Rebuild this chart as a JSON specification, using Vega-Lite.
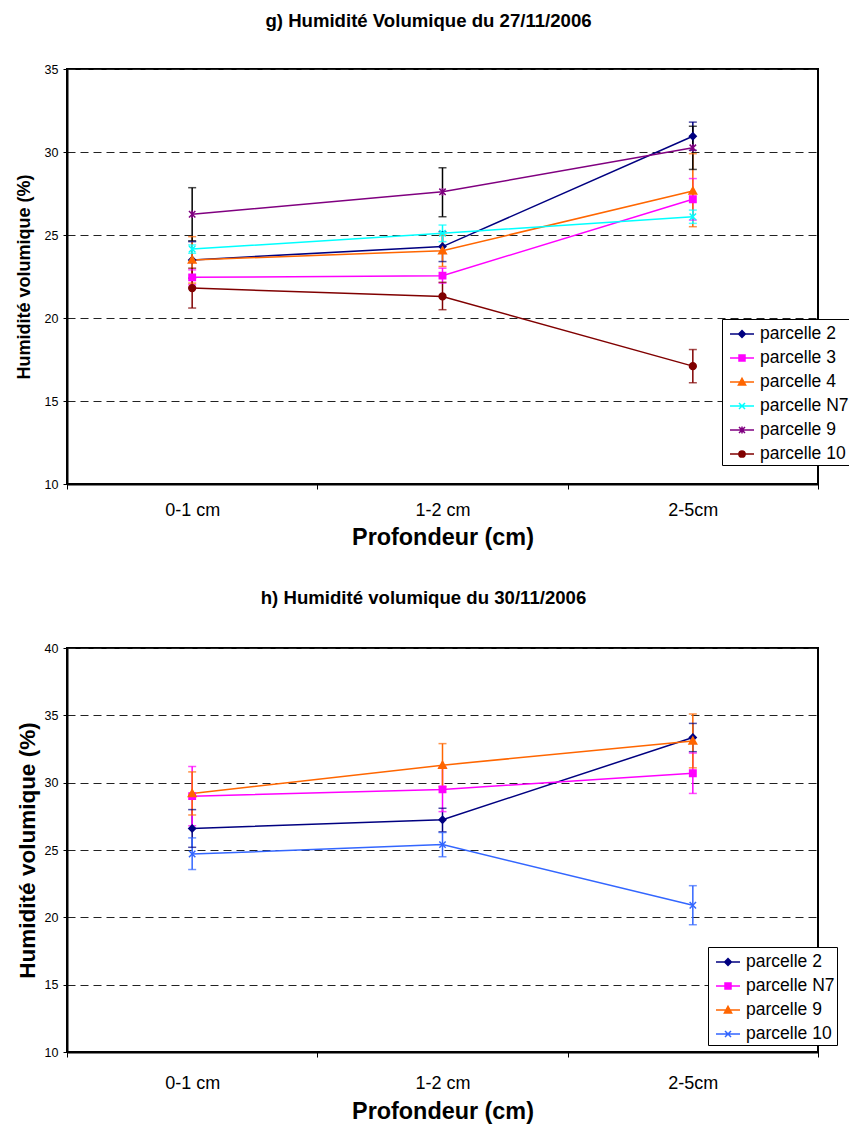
{
  "$schema": "https://vega.github.io/schema/vega-lite/v6.json",
  "background": "white",
  "padding": {"left": 14, "top": 11, "right": 0, "bottom": 0},
  "config": {
    "font": "Liberation Sans",
    "view": {"stroke": "black", "strokeWidth": 2},
    "axis": {"labelColor": "black", "titleColor": "black", "tickColor": "black", "domainColor": "black", "labelFont": "Liberation Sans", "titleFont": "Liberation Sans"}
  },
  "datasets": {
    "g": [
      {"serie": "parcelle 2", "prof": "0-1 cm", "val": 23.5, "lo": 22.4, "hi": 24.6},
      {"serie": "parcelle 2", "prof": "1-2 cm", "val": 24.3, "lo": 23.4, "hi": 25.2},
      {"serie": "parcelle 2", "prof": "2-5cm", "val": 30.95, "lo": 30.1, "hi": 31.8},
      {"serie": "parcelle 3", "prof": "0-1 cm", "val": 22.45, "lo": 22.0, "hi": 22.9},
      {"serie": "parcelle 3", "prof": "1-2 cm", "val": 22.55, "lo": 22.1, "hi": 23.0},
      {"serie": "parcelle 3", "prof": "2-5cm", "val": 27.15, "lo": 25.9, "hi": 28.4},
      {"serie": "parcelle 4", "prof": "0-1 cm", "val": 23.5, "lo": 22.1, "hi": 24.9},
      {"serie": "parcelle 4", "prof": "1-2 cm", "val": 24.05, "lo": 23.1, "hi": 25.0},
      {"serie": "parcelle 4", "prof": "2-5cm", "val": 27.65, "lo": 25.5, "hi": 29.9},
      {"serie": "parcelle N7", "prof": "0-1 cm", "val": 24.15, "lo": 23.9, "hi": 24.4},
      {"serie": "parcelle N7", "prof": "1-2 cm", "val": 25.1, "lo": 24.6, "hi": 25.6},
      {"serie": "parcelle N7", "prof": "2-5cm", "val": 26.1, "lo": 25.7, "hi": 26.5},
      {"serie": "parcelle 9", "prof": "0-1 cm", "val": 26.25, "lo": 24.65, "hi": 27.85},
      {"serie": "parcelle 9", "prof": "1-2 cm", "val": 27.6, "lo": 26.1, "hi": 29.05},
      {"serie": "parcelle 9", "prof": "2-5cm", "val": 30.25, "lo": 28.95, "hi": 31.55},
      {"serie": "parcelle 10", "prof": "0-1 cm", "val": 21.8, "lo": 20.6, "hi": 23.0},
      {"serie": "parcelle 10", "prof": "1-2 cm", "val": 21.3, "lo": 20.5, "hi": 22.15},
      {"serie": "parcelle 10", "prof": "2-5cm", "val": 17.1, "lo": 16.1, "hi": 18.1}
    ],
    "h": [
      {"serie": "parcelle 2", "prof": "0-1 cm", "val": 26.6, "lo": 25.2, "hi": 28.0},
      {"serie": "parcelle 2", "prof": "1-2 cm", "val": 27.25, "lo": 26.35, "hi": 28.1},
      {"serie": "parcelle 2", "prof": "2-5cm", "val": 33.35, "lo": 32.3, "hi": 34.4},
      {"serie": "parcelle N7", "prof": "0-1 cm", "val": 29.0, "lo": 26.8, "hi": 31.2},
      {"serie": "parcelle N7", "prof": "1-2 cm", "val": 29.5, "lo": 27.85, "hi": 31.15},
      {"serie": "parcelle N7", "prof": "2-5cm", "val": 30.7, "lo": 29.2, "hi": 32.2},
      {"serie": "parcelle 9", "prof": "0-1 cm", "val": 29.2, "lo": 27.6, "hi": 30.8},
      {"serie": "parcelle 9", "prof": "1-2 cm", "val": 31.3, "lo": 29.7, "hi": 32.9},
      {"serie": "parcelle 9", "prof": "2-5cm", "val": 33.1, "lo": 31.1, "hi": 35.1},
      {"serie": "parcelle 10", "prof": "0-1 cm", "val": 24.7, "lo": 23.55, "hi": 25.9},
      {"serie": "parcelle 10", "prof": "1-2 cm", "val": 25.4, "lo": 24.5, "hi": 26.3},
      {"serie": "parcelle 10", "prof": "2-5cm", "val": 20.9, "lo": 19.45, "hi": 22.35}
    ]
  },
  "vconcat": [
    {
      "width": 751,
      "height": 415,
      "data": {"name": "g"},
      "title": {"text": "g) Humidité Volumique du 27/11/2006", "fontSize": 18.6, "fontWeight": "bold", "color": "black", "anchor": "middle", "frame": "group", "dx": -14, "offset": 17, "baseline": "alphabetic"},
      "encoding": {
        "x": {"field": "prof", "type": "nominal",
          "scale": {"type": "band", "domain": ["0-1 cm", "1-2 cm", "2-5cm"], "paddingInner": 0, "paddingOuter": 0},
          "axis": {"title": "Profondeur (cm)", "titleFontSize": 23.4, "titleFontWeight": "bold", "titlePadding": 7, "labelAngle": 0, "labelFontSize": 18, "labelBaseline": "alphabetic", "labelPadding": 26, "tickBand": "extent", "tickSize": 5, "domainWidth": 2}}
      },
      "layer": [
        {
          "mark": {"type": "rule", "strokeWidth": 1.5},
          "encoding": {
            "y": {"field": "lo", "type": "quantitative",
              "scale": {"domain": [10, 35], "nice": false, "zero": false},
              "axis": {"title": "Humidité volumique (%)", "titleFontSize": 18, "titleFontWeight": "bold", "titleX": -37.5, "titleBaseline": "alphabetic", "values": [10, 15, 20, 25, 30, 35], "grid": true, "gridDash": [8, 5], "gridColor": "#222222", "gridWidth": 1, "tickSize": 4, "labelPadding": 5, "labelFontSize": 12.5, "domainWidth": 2}},
            "y2": {"field": "hi"},
            "color": {"field": "serie", "type": "nominal", "legend": null,
              "scale": {"domain": ["parcelle 2", "parcelle 3", "parcelle 4", "parcelle N7", "parcelle 9", "parcelle 10"], "range": ["#000080", "#FF00FF", "#FF6600", "#00FFFF", "#000000", "#800000"]}}
          }
        },
        {
          "mark": {"type": "tick", "size": 8, "thickness": 1.5, "orient": "horizontal"},
          "encoding": {
            "y": {"field": "lo", "type": "quantitative"},
            "color": {"field": "serie", "type": "nominal", "legend": null,
              "scale": {"domain": ["parcelle 2", "parcelle 3", "parcelle 4", "parcelle N7", "parcelle 9", "parcelle 10"], "range": ["#000080", "#FF00FF", "#FF6600", "#00FFFF", "#000000", "#800000"]}}
          }
        },
        {
          "mark": {"type": "tick", "size": 8, "thickness": 1.5, "orient": "horizontal"},
          "encoding": {
            "y": {"field": "hi", "type": "quantitative"},
            "color": {"field": "serie", "type": "nominal", "legend": null,
              "scale": {"domain": ["parcelle 2", "parcelle 3", "parcelle 4", "parcelle N7", "parcelle 9", "parcelle 10"], "range": ["#000080", "#FF00FF", "#FF6600", "#00FFFF", "#000000", "#800000"]}}
          }
        },
        {
          "mark": {"type": "line", "strokeWidth": 1.5},
          "encoding": {
            "y": {"field": "val", "type": "quantitative"},
            "color": {"field": "serie", "type": "nominal", "legend": null,
              "scale": {"domain": ["parcelle 2", "parcelle 3", "parcelle 4", "parcelle N7", "parcelle 9", "parcelle 10"], "range": ["#000080", "#FF00FF", "#FF6600", "#00FFFF", "#800080", "#800000"]}}
          }
        },
        {
          "mark": {"type": "point", "filled": true, "size": 64, "strokeWidth": 1.5, "opacity": 1},
          "encoding": {
            "y": {"field": "val", "type": "quantitative"},
            "fill": {"field": "serie", "type": "nominal", "legend": null,
              "scale": {"domain": ["parcelle 2", "parcelle 3", "parcelle 4", "parcelle N7", "parcelle 9", "parcelle 10"], "range": ["#000080", "#FF00FF", "#FF6600", "#00FFFF", "#800080", "#800000"]}},
            "stroke": {"field": "serie", "type": "nominal", "legend": null,
              "scale": {"domain": ["parcelle 2", "parcelle 3", "parcelle 4", "parcelle N7", "parcelle 9", "parcelle 10"], "range": ["#000080", "#FF00FF", "#FF6600", "#00FFFF", "#800080", "#800000"]}},
            "shape": {"field": "serie", "type": "nominal", "legend": null,
              "scale": {"domain": ["parcelle 2", "parcelle 3", "parcelle 4", "parcelle N7", "parcelle 9", "parcelle 10"],
                "range": ["M0,-0.85L0.85,0L0,0.85L-0.85,0Z", "M-0.8,-0.8H0.8V0.8H-0.8Z", "M0,-0.95L0.95,0.75H-0.95Z", "M-0.8,-0.8L0.8,0.8M-0.8,0.8L0.8,-0.8", "M-0.8,-0.8L0.8,0.8M-0.8,0.8L0.8,-0.8M0,-0.95V0.95", "M0.85,0A0.85,0.85,0,1,1,-0.85,0A0.85,0.85,0,1,1,0.85,0Z"]}}
          }
        },
        {
          "mark": {"type": "point", "filled": true, "opacity": 0, "strokeWidth": 1.5},
          "encoding": {
            "y": {"field": "val", "type": "quantitative"},
            "fill": {"field": "serie", "type": "nominal",
              "scale": {"domain": ["parcelle 2", "parcelle 3", "parcelle 4", "parcelle N7", "parcelle 9", "parcelle 10"], "range": ["#000080", "#FF00FF", "#FF6600", "#00FFFF", "#800080", "#800000"]},
              "legend": {"orient": "none", "legendX": 655, "legendY": 250, "title": null, "symbolSize": 576, "symbolOpacity": 1, "symbolStrokeWidth": 1.5, "symbolOffset": 5, "labelFontSize": 17.5, "labelColor": "black", "labelOffset": 5, "labelLimit": 300, "rowPadding": 2, "padding": 2, "strokeColor": "black", "fillColor": "white"}},
            "stroke": {"field": "serie", "type": "nominal",
              "scale": {"domain": ["parcelle 2", "parcelle 3", "parcelle 4", "parcelle N7", "parcelle 9", "parcelle 10"], "range": ["#000080", "#FF00FF", "#FF6600", "#00FFFF", "#800080", "#800000"]},
              "legend": {"orient": "none", "legendX": 655, "legendY": 250, "title": null, "symbolSize": 576, "symbolOpacity": 1, "symbolStrokeWidth": 1.5, "symbolOffset": 5, "labelFontSize": 17.5, "labelColor": "black", "labelOffset": 5, "labelLimit": 300, "rowPadding": 2, "padding": 2, "strokeColor": "black", "fillColor": "white"}},
            "shape": {"field": "serie", "type": "nominal",
              "scale": {"domain": ["parcelle 2", "parcelle 3", "parcelle 4", "parcelle N7", "parcelle 9", "parcelle 10"],
                "range": ["M-1,0H1M0,-0.28L0.28,0L0,0.28L-0.28,0Z", "M-1,0H1M-0.25,-0.25H0.25V0.25H-0.25Z", "M-1,0H1M0,-0.3L0.3,0.24H-0.3Z", "M-1,0H1M-0.25,-0.25L0.25,0.25M-0.25,0.25L0.25,-0.25", "M-1,0H1M-0.25,-0.25L0.25,0.25M-0.25,0.25L0.25,-0.25M0,-0.3V0.3", "M-1,0H1M0.26,0A0.26,0.26,0,1,1,-0.26,0A0.26,0.26,0,1,1,0.26,0Z"]},
              "legend": {"orient": "none", "legendX": 655, "legendY": 250, "title": null, "symbolSize": 576, "symbolOpacity": 1, "symbolStrokeWidth": 1.5, "symbolOffset": 5, "labelFontSize": 17.5, "labelColor": "black", "labelOffset": 5, "labelLimit": 300, "rowPadding": 2, "padding": 2, "strokeColor": "black", "fillColor": "white"}}
          }
        }
      ],
      "resolve": {"scale": {"color": "independent", "fill": "independent", "stroke": "independent", "shape": "independent"}}
    },
    {
      "width": 751,
      "height": 404,
      "data": {"name": "h"},
      "title": {"text": "h) Humidité volumique du 30/11/2006", "fontSize": 18.6, "fontWeight": "bold", "color": "black", "anchor": "middle", "frame": "group", "dx": -19, "offset": 19, "baseline": "alphabetic"},
      "encoding": {
        "x": {"field": "prof", "type": "nominal",
          "scale": {"type": "band", "domain": ["0-1 cm", "1-2 cm", "2-5cm"], "paddingInner": 0, "paddingOuter": 0},
          "axis": {"title": "Profondeur (cm)", "titleFontSize": 23.4, "titleFontWeight": "bold", "titlePadding": 8, "labelAngle": 0, "labelFontSize": 18, "labelBaseline": "alphabetic", "labelPadding": 31, "tickBand": "extent", "tickSize": 5, "domainWidth": 2}}
      },
      "layer": [
        {
          "mark": {"type": "rule", "strokeWidth": 1.5},
          "encoding": {
            "y": {"field": "lo", "type": "quantitative",
              "scale": {"domain": [10, 40], "nice": false, "zero": false},
              "axis": {"title": "Humidité volumique (%)", "titleFontSize": 22.5, "titleFontWeight": "bold", "titleX": -33, "titleBaseline": "alphabetic", "values": [10, 15, 20, 25, 30, 35, 40], "grid": true, "gridDash": [8, 5], "gridColor": "#222222", "gridWidth": 1, "tickSize": 4, "labelPadding": 5, "labelFontSize": 12.5, "domainWidth": 2}},
            "y2": {"field": "hi"},
            "color": {"field": "serie", "type": "nominal", "legend": null,
              "scale": {"domain": ["parcelle 2", "parcelle N7", "parcelle 9", "parcelle 10"], "range": ["#000080", "#FF00FF", "#FF6600", "#3366FF"]}}
          }
        },
        {
          "mark": {"type": "tick", "size": 8, "thickness": 1.5, "orient": "horizontal"},
          "encoding": {
            "y": {"field": "lo", "type": "quantitative"},
            "color": {"field": "serie", "type": "nominal", "legend": null,
              "scale": {"domain": ["parcelle 2", "parcelle N7", "parcelle 9", "parcelle 10"], "range": ["#000080", "#FF00FF", "#FF6600", "#3366FF"]}}
          }
        },
        {
          "mark": {"type": "tick", "size": 8, "thickness": 1.5, "orient": "horizontal"},
          "encoding": {
            "y": {"field": "hi", "type": "quantitative"},
            "color": {"field": "serie", "type": "nominal", "legend": null,
              "scale": {"domain": ["parcelle 2", "parcelle N7", "parcelle 9", "parcelle 10"], "range": ["#000080", "#FF00FF", "#FF6600", "#3366FF"]}}
          }
        },
        {
          "mark": {"type": "line", "strokeWidth": 1.5},
          "encoding": {
            "y": {"field": "val", "type": "quantitative"},
            "color": {"field": "serie", "type": "nominal", "legend": null,
              "scale": {"domain": ["parcelle 2", "parcelle N7", "parcelle 9", "parcelle 10"], "range": ["#000080", "#FF00FF", "#FF6600", "#3366FF"]}}
          }
        },
        {
          "mark": {"type": "point", "filled": true, "size": 64, "strokeWidth": 1.5, "opacity": 1},
          "encoding": {
            "y": {"field": "val", "type": "quantitative"},
            "fill": {"field": "serie", "type": "nominal", "legend": null,
              "scale": {"domain": ["parcelle 2", "parcelle N7", "parcelle 9", "parcelle 10"], "range": ["#000080", "#FF00FF", "#FF6600", "#3366FF"]}},
            "stroke": {"field": "serie", "type": "nominal", "legend": null,
              "scale": {"domain": ["parcelle 2", "parcelle N7", "parcelle 9", "parcelle 10"], "range": ["#000080", "#FF00FF", "#FF6600", "#3366FF"]}},
            "shape": {"field": "serie", "type": "nominal", "legend": null,
              "scale": {"domain": ["parcelle 2", "parcelle N7", "parcelle 9", "parcelle 10"],
                "range": ["M0,-0.85L0.85,0L0,0.85L-0.85,0Z", "M-0.8,-0.8H0.8V0.8H-0.8Z", "M0,-0.95L0.95,0.75H-0.95Z", "M-0.8,-0.8L0.8,0.8M-0.8,0.8L0.8,-0.8"]}}
          }
        },
        {
          "mark": {"type": "point", "filled": true, "opacity": 0, "strokeWidth": 1.5},
          "encoding": {
            "y": {"field": "val", "type": "quantitative"},
            "fill": {"field": "serie", "type": "nominal",
              "scale": {"domain": ["parcelle 2", "parcelle N7", "parcelle 9", "parcelle 10"], "range": ["#000080", "#FF00FF", "#FF6600", "#3366FF"]},
              "legend": {"orient": "none", "legendX": 641, "legendY": 299, "title": null, "symbolSize": 576, "symbolOpacity": 1, "symbolStrokeWidth": 1.5, "symbolOffset": 5, "labelFontSize": 17.5, "labelColor": "black", "labelOffset": 5, "labelLimit": 300, "rowPadding": 2, "padding": 2, "strokeColor": "black", "fillColor": "white"}},
            "stroke": {"field": "serie", "type": "nominal",
              "scale": {"domain": ["parcelle 2", "parcelle N7", "parcelle 9", "parcelle 10"], "range": ["#000080", "#FF00FF", "#FF6600", "#3366FF"]},
              "legend": {"orient": "none", "legendX": 641, "legendY": 299, "title": null, "symbolSize": 576, "symbolOpacity": 1, "symbolStrokeWidth": 1.5, "symbolOffset": 5, "labelFontSize": 17.5, "labelColor": "black", "labelOffset": 5, "labelLimit": 300, "rowPadding": 2, "padding": 2, "strokeColor": "black", "fillColor": "white"}},
            "shape": {"field": "serie", "type": "nominal",
              "scale": {"domain": ["parcelle 2", "parcelle N7", "parcelle 9", "parcelle 10"],
                "range": ["M-1,0H1M0,-0.28L0.28,0L0,0.28L-0.28,0Z", "M-1,0H1M-0.25,-0.25H0.25V0.25H-0.25Z", "M-1,0H1M0,-0.3L0.3,0.24H-0.3Z", "M-1,0H1M-0.25,-0.25L0.25,0.25M-0.25,0.25L0.25,-0.25"]},
              "legend": {"orient": "none", "legendX": 641, "legendY": 299, "title": null, "symbolSize": 576, "symbolOpacity": 1, "symbolStrokeWidth": 1.5, "symbolOffset": 5, "labelFontSize": 17.5, "labelColor": "black", "labelOffset": 5, "labelLimit": 300, "rowPadding": 2, "padding": 2, "strokeColor": "black", "fillColor": "white"}}
          }
        }
      ],
      "resolve": {"scale": {"color": "independent", "fill": "independent", "stroke": "independent", "shape": "independent"}}
    }
  ],
  "spacing": 38,
  "align": "none"
}
